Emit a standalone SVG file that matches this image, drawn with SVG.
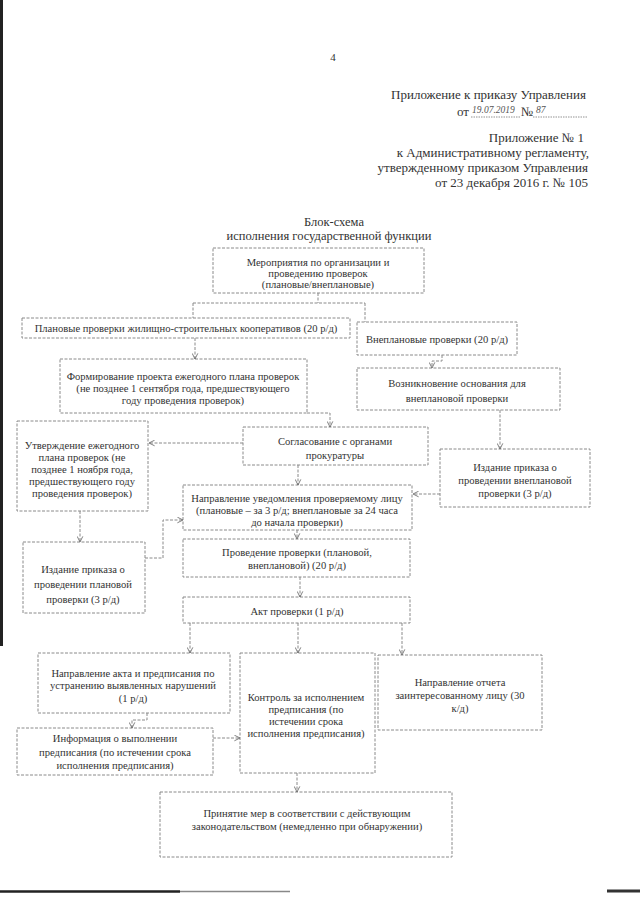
<svg xmlns="http://www.w3.org/2000/svg" width="640" height="905" viewBox="0 0 640 905">
<style>
text{font-family:"Liberation Serif","Times New Roman",serif;fill:#333}
.h{font-size:13px}
.ti{font-size:12.5px;text-anchor:middle}
.t{font-size:10.6px;text-anchor:middle}
.hw{font-family:"Liberation Serif",serif;font-style:italic;font-size:9.5px;fill:#555}
.box{fill:#fff;stroke:#8a8a8a;stroke-width:1;stroke-dasharray:3 1.5}
.con path{fill:none;stroke:#8a8a8a;stroke-width:1;stroke-dasharray:3 1.5}
</style>
<defs>
<marker id="ar" viewBox="0 0 10 10" refX="9" refY="5" markerWidth="7" markerHeight="7" orient="auto" markerUnits="userSpaceOnUse">
<path d="M1,1 L9,5 L1,9" fill="none" stroke="#666" stroke-width="1.2"/>
</marker>
</defs>
<rect width="640" height="905" fill="#fff"/>

<g id="header">
<text x="333" y="61" text-anchor="middle" style="font-size:11px">4</text>
<text class="h" x="586" y="99" text-anchor="end">Приложение к приказу Управления</text>
<text class="h" x="457" y="116">от</text>
<text class="hw" x="472" y="113">19.07.2019</text>
<text class="h" x="521" y="116">№</text>
<text class="hw" x="536" y="113">87</text>
<path d="M471,117 H520 M533,117 H587" stroke="#777" stroke-width="0.8" stroke-dasharray="1.5 1"/>
<text class="h" x="584" y="142" text-anchor="end">Приложение № 1</text>
<text class="h" x="589" y="157" text-anchor="end">к Административному регламенту,</text>
<text class="h" x="588" y="172" text-anchor="end">утвержденному приказом Управления</text>
<text class="h" x="588" y="187" text-anchor="end">от 23 декабря 2016 г. № 105</text>
<text class="ti" x="334" y="226">Блок-схема</text>
<text class="ti" x="329" y="240">исполнения государственной функции</text>
</g>

<g id="n1"><rect class="box" x="213" y="248" width="211" height="45"/>
<text class="t" x="318" y="266">Мероприятия по организации и</text>
<text class="t" x="318" y="277">проведению проверок</text>
<text class="t" x="318" y="288">(плановые/внеплановые)</text></g>

<g id="n2"><rect class="box" x="22" y="318" width="328" height="20"/>
<text class="t" x="186" y="332">Плановые проверки жилищно-строительных кооперативов (20 р/д)</text></g>

<g id="n3"><rect class="box" x="357" y="322" width="160" height="33"/>
<text class="t" x="437" y="343">Внеплановые проверки (20 р/д)</text></g>

<g id="n4"><rect class="box" x="60" y="359" width="247" height="54"/>
<text class="t" x="183" y="380">Формирование проекта ежегодного плана проверок</text>
<text class="t" x="183" y="392">(не позднее 1 сентября года, предшествующего</text>
<text class="t" x="183" y="404">году проведения проверок)</text></g>

<g id="n5"><rect class="box" x="357" y="368" width="203" height="42"/>
<text class="t" x="457" y="387">Возникновение основания для</text>
<text class="t" x="457" y="402">внеплановой проверки</text></g>

<g id="n6"><rect class="box" x="17" y="421" width="131" height="90"/>
<text class="t" x="82" y="449">Утверждение ежегодного</text>
<text class="t" x="82" y="461">плана проверок (не</text>
<text class="t" x="82" y="473">позднее 1 ноября года,</text>
<text class="t" x="82" y="485">предшествующего году</text>
<text class="t" x="82" y="497">проведения проверок)</text></g>

<g id="n7"><rect class="box" x="243" y="427" width="185" height="38"/>
<text class="t" x="335" y="445">Согласование с органами</text>
<text class="t" x="335" y="459">прокуратуры</text></g>

<g id="n8"><rect class="box" x="440" y="449" width="150" height="58"/>
<text class="t" x="515" y="471">Издание приказа о</text>
<text class="t" x="515" y="484">проведении внеплановой</text>
<text class="t" x="515" y="497">проверки (3 р/д)</text></g>

<g id="n9"><rect class="box" x="183" y="485" width="229" height="45"/>
<text class="t" x="297" y="502">Направление уведомления проверяемому лицу</text>
<text class="t" x="297" y="514">(плановые – за 3 р/д; внеплановые за 24 часа</text>
<text class="t" x="297" y="526">до начала проверки)</text></g>

<g id="n10"><rect class="box" x="23" y="542" width="122" height="71"/>
<text class="t" x="83" y="573">Издание приказа о</text>
<text class="t" x="83" y="588">проведении плановой</text>
<text class="t" x="83" y="603">проверки (3 р/д)</text></g>

<g id="n11"><rect class="box" x="183" y="539" width="227" height="38"/>
<text class="t" x="297" y="556">Проведение проверки (плановой,</text>
<text class="t" x="297" y="569">внеплановой) (20 р/д)</text></g>

<g id="n12"><rect class="box" x="183" y="597" width="227" height="26"/>
<text class="t" x="297" y="615">Акт проверки (1 р/д)</text></g>

<g id="n13"><rect class="box" x="38" y="653" width="192" height="60"/>
<text class="t" x="133" y="677">Направление акта и предписания по</text>
<text class="t" x="133" y="689">устранению выявленных нарушений</text>
<text class="t" x="133" y="702">(1 р/д)</text></g>

<g id="n14"><rect class="box" x="240" y="653" width="135" height="120"/>
<text class="t" x="306" y="701">Контроль за исполнением</text>
<text class="t" x="306" y="713">предписания (по</text>
<text class="t" x="306" y="725">истечении срока</text>
<text class="t" x="306" y="737">исполнения предписания)</text></g>

<g id="n15"><rect class="box" x="378" y="655" width="164" height="75"/>
<text class="t" x="460" y="686">Направление отчета</text>
<text class="t" x="460" y="699">заинтересованному лицу (30</text>
<text class="t" x="460" y="712">к/д)</text></g>

<g id="n16"><rect class="box" x="17" y="728" width="196" height="47"/>
<text class="t" x="115" y="742">Информация о выполнении</text>
<text class="t" x="115" y="756">предписания (по истечении срока</text>
<text class="t" x="115" y="769">исполнения предписания)</text></g>

<g id="n17"><rect class="box" x="160" y="792" width="292" height="65"/>
<text class="t" x="307" y="817">Принятие мер в соответствии с действующим</text>
<text class="t" x="307" y="830">законодательством (немедленно при обнаружении)</text></g>

<g id="connectors" class="con">
<path d="M318,293 V303 M193,303 H365 M193,303 V318 M365,303 V322"/>
<path d="M195,338 V359" marker-end="url(#ar)"/>
<path d="M307,413 H330 V427" marker-end="url(#ar)"/>
<path d="M442,355 V361 H432 V368" marker-end="url(#ar)"/>
<path d="M500,410 V449" marker-end="url(#ar)"/>
<path d="M440,494 H413" marker-end="url(#ar)"/>
<path d="M243,443 H149" marker-end="url(#ar)"/>
<path d="M298,465 V485" marker-end="url(#ar)"/>
<path d="M80,511 V542" marker-end="url(#ar)"/>
<path d="M145,558 H163 V520 H183" marker-end="url(#ar)"/>
<path d="M297,530 V539" marker-end="url(#ar)"/>
<path d="M300,577 V597" marker-end="url(#ar)"/>
<path d="M190,623 V653" marker-end="url(#ar)"/>
<path d="M298,623 V653" marker-end="url(#ar)"/>
<path d="M402,623 V655" marker-end="url(#ar)"/>
<path d="M147,713 V720 H132 V728" marker-end="url(#ar)"/>
<path d="M213,738 H240" marker-end="url(#ar)"/>
<path d="M297,773 V792" marker-end="url(#ar)"/>
</g>

<g id="scan-edges">
<path d="M1.5,0 V646" stroke="#222" stroke-width="3"/>
<path d="M0,891.5 H180" stroke="#222" stroke-width="2.5"/>
<path d="M180,891.5 H290" stroke="#888" stroke-width="1.5"/>
<path d="M607,891 H640" stroke="#333" stroke-width="3"/>
</g>
</svg>
